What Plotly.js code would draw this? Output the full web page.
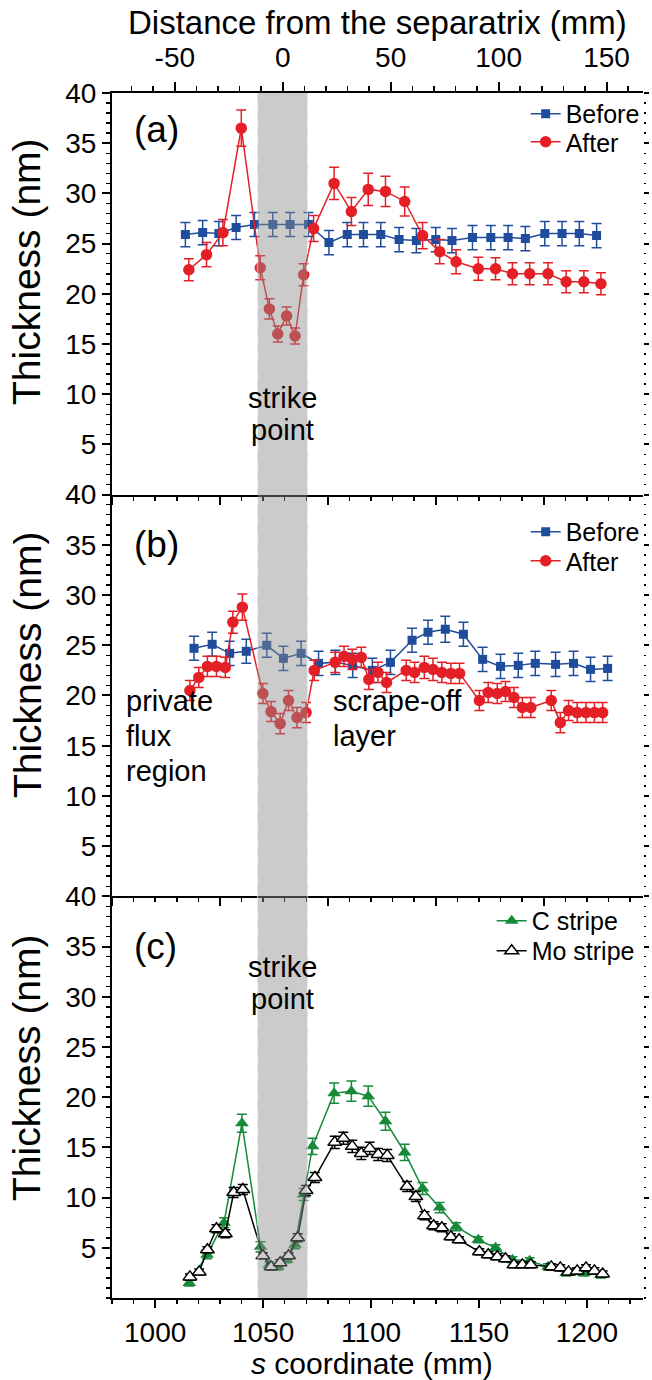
<!DOCTYPE html>
<html>
<head>
<meta charset="utf-8">
<script src="https://cdn.plot.ly/plotly-3.0.1.min.js"></script>
<style>html,body{margin:0;padding:0;background:#fff;}#chart{width:652px;height:1380px;}</style>
</head>
<body>
<div id="chart"></div>
<script>
// ---------- Panel (a) ----------
const sA_before = [1014, 1022, 1029.5, 1037.5, 1046, 1054.5, 1062.5, 1071, 1080.5, 1089, 1096.5, 1104.5, 1113, 1121, 1130, 1137.5, 1147, 1155.5, 1163.5, 1171.5, 1180.5, 1188.5, 1196.5, 1204.5];
const tA_before = [25.9, 26.1, 26.0, 26.6, 26.9, 26.9, 26.9, 26.9, 25.1, 25.9, 25.9, 25.9, 25.4, 25.3, 25.4, 25.3, 25.6, 25.6, 25.6, 25.5, 26.0, 26.0, 26.0, 25.8];
const eA_before = [1.2, 1.2, 1.2, 1.2, 1.2, 1.2, 1.2, 1.2, 1.2, 1.2, 1.2, 1.2, 1.2, 1.2, 1.2, 1.2, 1.2, 1.2, 1.2, 1.2, 1.2, 1.2, 1.2, 1.2];
const sA_after = [1015.6, 1023.8, 1031.4, 1039.9, 1048.7, 1052.9, 1056.8, 1060.9, 1064.8, 1068.8, 1073.4, 1082.9, 1090.9, 1098.7, 1106.7, 1115.6, 1123.9, 1131.8, 1139.4, 1149.7, 1157.7, 1165.5, 1173.5, 1182, 1190.4, 1198.6, 1206.5];
const tA_after = [22.4, 23.9, 26.1, 36.5, 22.6, 18.5, 16.0, 17.8, 15.8, 21.9, 26.5, 31.0, 28.2, 30.4, 30.2, 29.2, 25.8, 24.2, 23.2, 22.5, 22.5, 22.0, 22.0, 22.0, 21.2, 21.2, 21.0];
const eA_after = [1.1, 1.2, 1.3, 1.8, 1.2, 1.0, 0.8, 0.9, 0.8, 1.1, 1.3, 1.6, 1.4, 1.6, 1.5, 1.45, 1.3, 1.2, 1.2, 1.15, 1.1, 1.1, 1.1, 1.1, 1.1, 1.1, 1.1];

// ---------- Panel (b) ----------
const sB_before = [1018, 1026.4, 1034.5, 1042.2, 1051.7, 1059.4, 1067.6, 1075.7, 1083.5, 1091.5, 1100.6, 1109, 1119, 1126.4, 1134.4, 1142.8, 1151.7, 1160, 1168.2, 1176.1, 1185.5, 1193.8, 1201.7, 1209.6];
const tB_before = [24.7, 25.1, 24.2, 24.4, 25.0, 23.7, 24.2, 23.2, 23.3, 23.0, 22.5, 23.3, 25.5, 26.3, 26.6, 26.1, 23.6, 22.9, 23.0, 23.2, 23.1, 23.2, 22.6, 22.7];
const eB_before = [1.2, 1.2, 1.2, 1.2, 1.2, 1.2, 1.2, 1.2, 1.2, 1.2, 1.2, 1.2, 1.2, 1.2, 1.3, 1.2, 1.2, 1.2, 1.2, 1.2, 1.2, 1.2, 1.2, 1.2];
const sB_after = [1016.1, 1020.2, 1024.2, 1028.4, 1032.5, 1036, 1040.4, 1049.9, 1053.7, 1057.9, 1061.8, 1065.7, 1069.9, 1073.7, 1083.4, 1087.5, 1091.3, 1095.5, 1099, 1103.2, 1107.2, 1116.3, 1120.2, 1124.7, 1128.7, 1132.8, 1137, 1141, 1150.2, 1154.3, 1158.5, 1162.3, 1166.2, 1170.1, 1174, 1183.5, 1187.7, 1191.5, 1195.5, 1199.6, 1203.5, 1207.3];
const tB_after = [20.5, 21.8, 22.9, 22.9, 22.8, 27.3, 28.8, 20.2, 18.4, 17.2, 19.5, 17.8, 18.3, 22.5, 23.3, 23.9, 23.6, 23.8, 21.6, 22.3, 21.3, 22.5, 22.3, 22.8, 22.6, 22.3, 22.2, 22.2, 19.5, 20.3, 20.2, 20.4, 19.8, 18.8, 18.8, 19.5, 17.3, 18.5, 18.3, 18.3, 18.3, 18.3];
const eB_after = [1.0, 1.0, 1.0, 1.0, 1.0, 1.1, 1.3, 1.0, 1.0, 1.0, 1.0, 1.0, 1.0, 1.0, 1.0, 1.0, 1.0, 1.0, 1.0, 1.0, 1.0, 1.0, 1.0, 1.1, 1.1, 1.0, 1.0, 1.0, 1.0, 1.0, 1.0, 1.0, 1.0, 1.0, 1.0, 1.0, 1.0, 1.0, 1.0, 1.0, 1.0, 1.0];

// ---------- Panel (c) ----------
const sC_C = [1015.8, 1024, 1031.9, 1040.2, 1048.8, 1052.9, 1056.8, 1060.9, 1064.8, 1068.8, 1072.9, 1082.9, 1090.9, 1098.7, 1106.7, 1115.6, 1123.9, 1131.8, 1139.4, 1149.7, 1157.7, 1165.5, 1173.5, 1182, 1190.4, 1198.6, 1206.5];
const tC_C = [1.5, 4.3, 7.5, 17.4, 5.1, 3.3, 3.1, 3.8, 5.3, 10.3, 15.1, 20.4, 20.6, 20.1, 17.6, 14.5, 10.9, 9.0, 7.1, 5.8, 5.0, 3.8, 3.7, 3.1, 2.5, 2.5, 2.3];
const eC_C = [0.3, 0.4, 0.5, 0.9, 0.5, 0.3, 0.3, 0.3, 0.4, 0.6, 0.8, 1.0, 1.0, 1.0, 0.9, 0.8, 0.6, 0.5, 0.4, 0.3, 0.3, 0.3, 0.3, 0.3, 0.3, 0.3, 0.3];
const sC_Mo = [1016.1, 1020.4, 1024.2, 1028.4, 1032.5, 1036.4, 1040.6, 1049.9, 1053.7, 1057.9, 1061.8, 1066, 1069.9, 1074, 1083.2, 1087.2, 1091.3, 1095.5, 1099.4, 1103.3, 1107.5, 1116.7, 1120.8, 1124.8, 1129, 1132.8, 1137, 1140.8, 1150.2, 1154.3, 1158.5, 1162.3, 1166.2, 1170.1, 1174, 1183.5, 1187.7, 1191.5, 1195.5, 1199.6, 1203.5, 1207.3];
const tC_Mo = [2.1, 2.6, 4.8, 6.9, 6.4, 10.5, 10.8, 4.2, 3.1, 3.5, 4.2, 6.0, 10.7, 12.0, 15.5, 15.9, 15.1, 14.4, 14.9, 14.3, 14.2, 11.1, 10.1, 8.2, 7.2, 7.0, 6.1, 5.8, 4.6, 4.3, 4.1, 3.9, 3.3, 3.3, 3.3, 3.1, 3.0, 2.6, 2.7, 3.0, 2.7, 2.4];
const eC_Mo = [0.3, 0.3, 0.3, 0.4, 0.4, 0.5, 0.5, 0.3, 0.3, 0.3, 0.3, 0.4, 0.5, 0.5, 0.6, 0.6, 0.6, 0.6, 0.6, 0.6, 0.6, 0.5, 0.5, 0.4, 0.4, 0.4, 0.3, 0.3, 0.3, 0.3, 0.3, 0.3, 0.3, 0.3, 0.3, 0.3, 0.3, 0.3, 0.3, 0.3, 0.3, 0.3];

// ---------- axis / tick definitions ----------
const sRange = [980, 1226];
const separatrixS = 1059.1;
const strikeBand = [1047.4, 1070.6];
const yRange = [0, 40];
const yTickVals = [5, 10, 15, 20, 25, 30, 35, 40];
const topTickVals = [-50, 0, 50, 100, 150];
const topTickText = ['-50', '0', '50', '100', '150'];

const BLUE = '#204c9c', RED = '#e41f26', GREEN = '#178a3a', BLACK = '#000000';
const FONT = 'Arial, "Liberation Sans", Helvetica, sans-serif';

function tr(x, y, e, xa, ya, name, color, symbol, size, legend, fill) {
  return {
    x: x, y: y, xaxis: xa, yaxis: ya, name: name, legend: legend,
    type: 'scatter', mode: 'lines+markers',
    line: {color: color, width: 1.5},
    marker: {symbol: symbol, size: size, color: fill || color, line: {color: color, width: fill ? 1.5 : 0}},
    error_y: {type: 'data', array: e, visible: true, color: color, thickness: 1.5, width: 5},
    hoverinfo: 'skip'
  };
}

const data = [
  tr(sA_before, tA_before, eA_before, 'x3', 'y3', 'Before', BLUE, 'square', 9, 'legend'),
  tr(sA_after, tA_after, eA_after, 'x3', 'y3', 'After', RED, 'circle', 11.5, 'legend2'),
  tr(sB_before, tB_before, eB_before, 'x2', 'y2', 'Before', BLUE, 'square', 9, 'legend3'),
  tr(sB_after, tB_after, eB_after, 'x2', 'y2', 'After', RED, 'circle', 11.5, 'legend4'),
  tr(sC_C, tC_C, eC_C, 'x', 'y', 'C stripe', GREEN, 'triangle-up', 12, 'legend5'),
  tr(sC_Mo, tC_Mo, eC_Mo, 'x', 'y', 'Mo stripe', BLACK, 'triangle-up', 12, 'legend6', '#ffffff'),
  // empty traces so the helper axes (top distance axis, right tick axes) exist
  {x: [], y: [], xaxis: 'x4', yaxis: 'y3', type: 'scatter', showlegend: false},
  {x: [], y: [], xaxis: 'x', yaxis: 'y4', type: 'scatter', showlegend: false},
  {x: [], y: [], xaxis: 'x2', yaxis: 'y5', type: 'scatter', showlegend: false},
  {x: [], y: [], xaxis: 'x3', yaxis: 'y6', type: 'scatter', showlegend: false}
];

const tickFont = {family: FONT, size: 28, color: '#000'};

function xBase(extra) {
  return Object.assign({
    range: sRange, showgrid: false, zeroline: false,
    showline: true, linecolor: '#000', linewidth: 2,
    ticks: 'outside', tickcolor: '#000', tickwidth: 2, ticklen: 8,
    tickmode: 'linear', tick0: 1000, dtick: 50, ticklabelstandoff: 0,
    minor: {ticks: 'outside', tickmode: 'linear', tick0: 980, dtick: 10, ticklen: 4, tickwidth: 1.5, tickcolor: '#000'},
    tickfont: tickFont
  }, extra);
}
function yBase(extra) {
  return Object.assign({
    range: yRange, showgrid: false, zeroline: false,
    showline: true, linecolor: '#000', linewidth: 2,
    ticks: 'outside', tickcolor: '#000', tickwidth: 2, ticklen: 8,
    tickmode: 'array', tickvals: yTickVals,
    minor: {ticks: 'outside', tickmode: 'linear', tick0: 0, dtick: 1, ticklen: 4, tickwidth: 1.5, tickcolor: '#000'},
    tickfont: tickFont
  }, extra);
}
function yRight(over, anchor) {
  return {
    overlaying: over, anchor: anchor, side: 'right', range: yRange,
    showgrid: false, zeroline: false, showline: false,
    ticks: 'outside', tickcolor: '#000', tickwidth: 2, ticklen: 5,
    tickmode: 'array', tickvals: yTickVals, showticklabels: false,
    minor: {ticks: 'outside', tickmode: 'linear', tick0: 0, dtick: 1, ticklen: 2, tickwidth: 1.5, tickcolor: '#000'}
  };
}
function leg(x, y) {
  return {x: x, y: y, xanchor: 'left', yanchor: 'top', bgcolor: 'rgba(0,0,0,0)', borderwidth: 0,
          font: {family: FONT, size: 25, color: '#000'}, tracegroupgap: 0};
}
function txt(text, xref, yref, x, y, size, xanchor, extra) {
  return Object.assign({text: text, xref: xref, yref: yref, x: x, y: y, xanchor: xanchor || 'center', yanchor: 'middle',
          showarrow: false, font: {family: FONT, size: size, color: '#000'}}, extra || {});
}

const d = 1 / 3;
const layout = {
  width: 652, height: 1380,
  margin: {l: 112, r: 7, t: 93, b: 82, pad: 0},
  paper_bgcolor: '#ffffff', plot_bgcolor: 'rgba(0,0,0,0)',
  font: {family: FONT, color: '#000'},
  showlegend: true,
  xaxis: xBase({domain: [0, 1], anchor: 'y'}),
  xaxis2: xBase({domain: [0, 1], anchor: 'y2', showticklabels: false, tick0: 980, matches: 'x'}),
  xaxis3: xBase({domain: [0, 1], anchor: 'y3', showticklabels: false, tick0: 980, matches: 'x'}),
  xaxis4: {
    overlaying: 'x3', anchor: 'y3', side: 'top',
    range: [sRange[0] - separatrixS, sRange[1] - separatrixS],
    showgrid: false, zeroline: false, showline: true, linecolor: '#000', linewidth: 2,
    ticks: 'outside', tickcolor: '#000', tickwidth: 2, ticklen: 9, ticklabelstandoff: 4,
    tickmode: 'array', tickvals: topTickVals, ticktext: topTickText,
    minor: {ticks: 'outside', tickmode: 'linear', tick0: 0, dtick: 10, ticklen: 5, tickwidth: 1.5, tickcolor: '#000'},
    tickfont: tickFont
  },
  yaxis: yBase({domain: [0, d], anchor: 'x'}),
  yaxis2: yBase({domain: [d, 2 * d], anchor: 'x2'}),
  yaxis3: yBase({domain: [2 * d, 1], anchor: 'x3'}),
  yaxis4: yRight('y', 'x'),
  yaxis5: yRight('y2', 'x2'),
  yaxis6: yRight('y3', 'x3'),
  legend: leg(0.779, 1.0017),
  legend2: leg(0.779, 0.9784),
  legend3: leg(0.779, 0.6548),
  legend4: leg(0.779, 0.6307),
  legend5: leg(0.715, 0.3320),
  legend6: leg(0.715, 0.3071),
  shapes: [
    {type: 'rect', xref: 'x', yref: 'paper', x0: strikeBand[0], x1: strikeBand[1], y0: 0, y1: 1,
     layer: 'above', fillcolor: 'rgba(140,140,140,0.45)', line: {width: 0}},
    {type: 'line', xref: 'x', yref: 'paper', x0: strikeBand[0], x1: strikeBand[0], y0: 0, y1: 1,
     layer: 'above', line: {color: 'rgba(255,255,255,0.45)', width: 1.5, dash: 'dash'}},
    {type: 'line', xref: 'x', yref: 'paper', x0: strikeBand[1], x1: strikeBand[1], y0: 0, y1: 1,
     layer: 'above', line: {color: 'rgba(255,255,255,0.45)', width: 1.5, dash: 'dash'}}
  ],
  annotations: [
    txt('Distance from the separatrix (mm)', 'paper', 'paper', 0.5, 1.0585, 33),
    txt('<i>s</i> coordinate (mm)', 'paper', 'paper', 0.49, -0.0545, 30),
    txt('Thickness (nm)', 'paper', 'paper', -0.16, 0.8515, 39, 'center', {textangle: -90}),
    txt('Thickness (nm)', 'paper', 'paper', -0.16, 0.5253, 39, 'center', {textangle: -90}),
    txt('Thickness (nm)', 'paper', 'paper', -0.16, 0.1909, 39, 'center', {textangle: -90}),
    txt('(a)', 'paper', 'paper', 0.038, 0.9693, 37, 'left'),
    txt('(b)', 'paper', 'paper', 0.038, 0.6249, 37, 'left'),
    txt('(c)', 'paper', 'paper', 0.038, 0.2921, 37, 'left'),
    txt('strike', 'x3', 'y3', separatrixS, 9.6, 29),
    txt('point', 'x3', 'y3', separatrixS, 6.4, 29),
    txt('strike', 'x', 'y', separatrixS, 33.0, 29),
    txt('point', 'x', 'y', separatrixS, 29.8, 29),
    txt('private', 'x2', 'y2', 985.5, 19.5, 29, 'left'),
    txt('flux', 'x2', 'y2', 985.5, 16.0, 29, 'left'),
    txt('region', 'x2', 'y2', 985.5, 12.5, 29, 'left'),
    txt('scrape-off', 'x2', 'y2', 1081.5, 19.5, 29, 'left'),
    txt('layer', 'x2', 'y2', 1081.5, 16.0, 29, 'left')
  ]
};

Plotly.newPlot('chart', data, layout, {displayModeBar: false, staticPlot: true});
</script>
</body>
</html>
